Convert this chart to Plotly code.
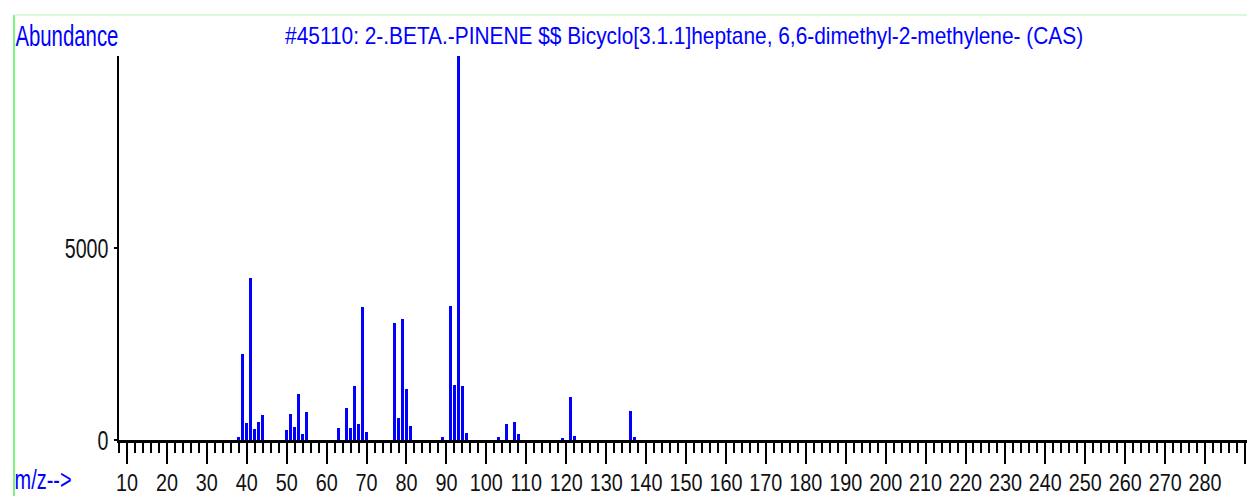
import plotly.graph_objects as go

# Data
mz = [38, 39, 40, 41, 42, 43, 44, 50, 51, 52, 53, 54, 55, 63, 65, 66, 67, 68, 69, 70,
      77, 78, 79, 80, 81, 89, 91, 92, 93, 94, 95, 103, 105, 107, 108, 119, 121, 122, 136, 137]
abundance = [85, 2240, 450, 4230, 295, 480, 660, 260, 690, 350, 1200, 150, 720, 300, 840, 320,
             1400, 410, 3470, 210, 3040, 580, 3160, 1340, 365, 85, 3500, 1430, 9990, 1415, 170,
             85, 415, 480, 155, 60, 1110, 105, 765, 90]
x_ticks = list(range(10, 291, 10))
x_tick_labels = [str(v) for v in range(10, 281, 10)] + [""]
y_ticks = [0, 5000]

title_text = "#45110: 2-.BETA.-PINENE $$ Bicyclo[3.1.1]heptane, 6,6-dimethyl-2-methylene- (CAS)"
FONT = "Liberation Sans, Arial, sans-serif"
BLUE = "#0000FF"

W, H = 1247, 496
L, R, T, B = 119, 0, 56, 56
pw, ph = W - L - R, H - T - B


def px_x(px):
    return (px - L) / pw


def px_y(py):
    return (H - B - py) / ph


fig = go.Figure()
fig.add_trace(go.Bar(x=mz, y=abundance, width=0.75, marker=dict(color=BLUE, line=dict(width=0))))

fig.update_layout(
    width=W, height=H,
    margin=dict(l=L, r=R, t=T, b=B, autoexpand=False),
    paper_bgcolor="white", plot_bgcolor="white",
    showlegend=False,
    bargap=0,
    font=dict(family=FONT, color="black"),
)
fig.update_xaxes(
    range=[8, 290.5], showgrid=False, zeroline=False, automargin=False,
    showline=True, linecolor="black", linewidth=2.5,
    ticks="outside", ticklen=21, tickwidth=2, tickcolor="black",
    tickvals=x_ticks, ticktext=x_tick_labels, tickangle=0,
    tickfont=dict(family=FONT, size=23, color="#111"),
    minor=dict(dtick=2, tick0=0, ticks="outside", ticklen=10, tickwidth=1.5, tickcolor="black"),
)
fig.update_yaxes(
    range=[0, 10000], showgrid=False, zeroline=False, automargin=False,
    showline=True, linecolor="black", linewidth=2,
    ticks="outside", ticklen=3, tickwidth=1.5, tickcolor="black",
    tickvals=y_ticks, ticktext=[str(v) for v in y_ticks],
    tickfont=dict(family=FONT, size=28, color="#111"),
)

# green frame lines
fig.add_shape(type="line", xref="paper", yref="paper",
              x0=px_x(14), x1=px_x(14), y0=px_y(15), y1=px_y(H),
              line=dict(color="#7CF57C", width=2))
fig.add_shape(type="line", xref="paper", yref="paper",
              x0=px_x(14), x1=px_x(W), y0=px_y(15), y1=px_y(15),
              line=dict(color="#CCF7CC", width=1.5))

fig.add_annotation(text="Abundance", xref="paper", yref="paper",
                   x=px_x(66.5), y=px_y(35), xanchor="center", yanchor="middle",
                   showarrow=False, font=dict(family=FONT, size=30, color=BLUE))
fig.add_annotation(text=title_text, xref="paper", yref="paper",
                   x=px_x(684), y=px_y(35), xanchor="center", yanchor="middle",
                   showarrow=False, font=dict(family=FONT, size=24, color=BLUE))
fig.add_annotation(text="m/z-->", xref="paper", yref="paper",
                   x=px_x(43.5), y=px_y(479), xanchor="center", yanchor="middle",
                   showarrow=False, font=dict(family=FONT, size=28, color=BLUE))

# Condense the text horizontally, like the narrow font of the original print-out
post = """
var gd = document.getElementById('{plot_id}');
var targets = {"Abundance": 103, "m/z-->": 57};
targets[%s] = 798;
gd.querySelectorAll('text').forEach(function(t){
  var s = t.textContent;
  if (!s) return;
  var w = t.getComputedTextLength();
  if (!w) return;
  var f = t.closest('.xtick') ? 0.86 : 0.70;
  var target = (s in targets) ? targets[s] : w * f;
  t.setAttribute('textLength', target);
  t.setAttribute('lengthAdjust', 'spacingAndGlyphs');
});
""" % ('"' + title_text + '"')

fig.write_html("out.html", post_script=post)
